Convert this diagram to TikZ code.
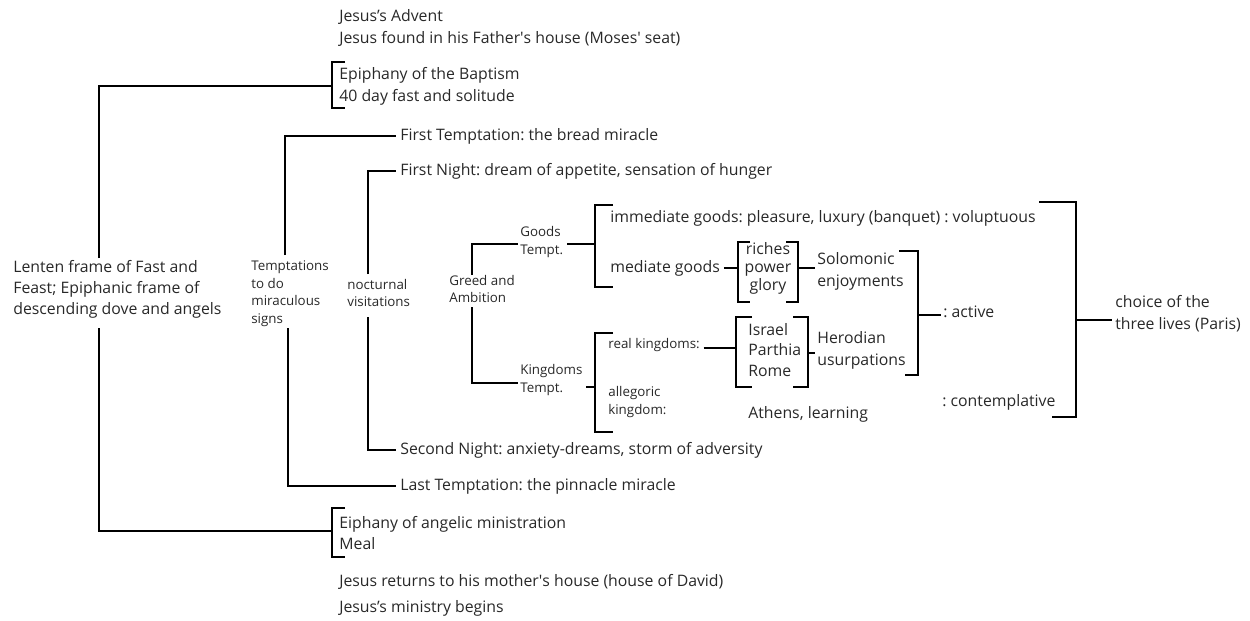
\documentclass[tikz,border=0pt]{standalone}
\usepackage{fontspec}
\setmainfont{Open Sans}
\usepackage{xcolor}
\usepackage{tikz}
\definecolor{inkgray}{RGB}{40, 40, 40}
\frenchspacing

\begin{document}
\begin{tikzpicture}[
  x=0.02cm, y=-0.02cm,
  txt/.style={anchor=west, inner sep=0pt, align=left, text=inkgray, font=\fontsize{9}{12.4}\selectfont},
  sm/.style={txt, font=\fontsize{7.6}{10}\selectfont},
  ln/.style={line width=1.5pt, color=black}
]
\useasboundingbox (0,0) rectangle (1250,620);

% Opening and closing lines of the frame
\node[txt] (advent) at (339,17) {Jesus’s Advent};
\node[txt] (found) at (339,39) {Jesus found in his Father\textquotesingle s house (Moses\textquotesingle\ seat)};
\node[txt] (baptism) at (339,86.5) {Epiphany of the Baptism\\40 day fast and solitude};
\node[txt] (minist) at (339,533) {Eiphany of angelic ministration\\Meal};
\node[txt] (returns) at (339,582) {Jesus returns to his mother\textquotesingle s house (house of David)};
\node[txt] (ministry) at (339,608) {Jesus’s ministry begins};

% Outer frame
\node[txt, font=\fontsize{9}{11.9}\selectfont] (lenten) at (13,289) {Lenten frame of Fast and\\Feast; Epiphanic frame of\\descending dove and angels};
\coordinate (lentUp) at (99,258);
\coordinate (lentDn) at (99,328);
\coordinate (bapMid) at (332,86);
\coordinate (minMid) at (332,531);
\draw[ln] (lentUp) |- (bapMid);
\draw[ln] (lentDn) |- (minMid);
\draw[ln] (345,62) -| (332,108) -- (345,108);
\draw[ln] (345,508) -| (332,557) -- (345,557);

% Miraculous signs
\node[sm] (signs) at (251,293.5) {Temptations\\to do\\miraculous\\signs};
\node[txt] (firstT) at (400,136) {First Temptation: the bread miracle};
\node[txt] (lastT) at (400,486) {Last Temptation: the pinnacle miracle};
\coordinate (signsUp) at (285,255);
\coordinate (signsDn) at (288,328);
\draw[ln] (signsUp) |- ([xshift=-2pt]firstT.west);
\draw[ln] (signsDn) |- ([xshift=-2pt]lastT.west);

% Nocturnal visitations
\node[sm] (noct) at (347,293) {nocturnal\\visitations};
\node[txt] (firstN) at (400,171) {First Night: dream of appetite, sensation of hunger};
\node[txt] (secondN) at (400,450) {Second Night: anxiety-dreams, storm of adversity};
\coordinate (noctUp) at (368,274);
\coordinate (noctDn) at (368,317);
\draw[ln] (noctUp) |- ([xshift=-2pt]firstN.west);
\draw[ln] (noctDn) |- ([xshift=-2pt]secondN.west);

% Greed and Ambition
\node[sm] (greed) at (449,289) {Greed and\\Ambition};
\node[sm] (goods) at (520,242) {Goods\\Tempt.};
\node[sm] (kingdoms) at (520,380) {Kingdoms\\Tempt.};
\coordinate (greedUp) at (472,275);
\coordinate (greedDn) at (472,307);
\draw[ln] (greedUp) |- ([xshift=-1pt]goods.west |- 0,244);
\draw[ln] (greedDn) |- ([xshift=-1pt]kingdoms.west |- 0,383);

% Goods temptation
\coordinate (goodsMid) at (595,244);
\draw[ln] ([xshift=2pt]goods.east |- goodsMid) -- (goodsMid);
\draw[ln] (613,205) -| (595,287) -- (613,287);
\node[txt] (immed) at (610,218) {immediate goods: pleasure, luxury (banquet) : voluptuous};
\node[txt] (mediate) at (610,268) {mediate goods};
\node[txt, anchor=center, align=center, font=\fontsize{9}{10.3}\selectfont] (riches) at (768,268) {riches\\power\\glory};
\coordinate (richL) at (737,268);
\coordinate (richR) at (798,268);
\draw[ln] (750,242) -| (738,302) -- (750,302);
\draw[ln] (786,242) -| (798,302) -- (786,302);
\draw[ln] ([xshift=2pt]mediate.east |- richL) -- (richL);
\node[txt] (solomon) at (817,271.5) {Solomonic\\enjoyments};
\draw[ln] (richR) -- ([xshift=-1pt]solomon.west |- richR);

% Kingdoms temptation
\coordinate (kingMid) at (595,387);
\draw[ln] ([xshift=2pt]kingdoms.east |- kingMid) -- (kingMid);
\draw[ln] (613,333) -| (595,432) -- (613,432);
\node[sm] (real) at (608,345) {real kingdoms:};
\node[sm] (allegoric) at (608,402) {allegoric\\kingdom:};
\node[txt, font=\fontsize{9}{11.6}\selectfont] (israel) at (748,350) {Israel\\Parthia\\Rome};
\coordinate (israelL) at (736,348);
\coordinate (israelR) at (808,353);
\draw[ln] (752,317) -| (736,387) -- (752,387);
\draw[ln] (793,317) -| (808,387) -- (793,387);
\draw[ln] ([xshift=2pt]real.east |- israelL) -- (israelL);
\node[txt] (herod) at (817,350) {Herodian\\usurpations};
\draw[ln] (israelR) -- ([xshift=-1pt]herod.west |- israelR);
\node[txt] (athens) at (748,414) {Athens, learning};

% The three lives
\coordinate (activeMid) at (918,315);
\draw[ln] (899,251) -| (918,375) -- (905,375);
\node[txt] (active) at (943,312) {: active};
\draw[ln] (activeMid) -- ([xshift=-1pt]active.west |- activeMid);
\node[txt] (contemp) at (942,402) {: contemplative};
\coordinate (livesMid) at (1076,320);
\draw[ln] (1039,202) -| (1076,417) -- (1052,417);
\node[txt] (choice) at (1115,314) {choice of the\\three lives (Paris)};
\draw[ln] (livesMid) -- ([xshift=-2pt]choice.west |- livesMid);

\end{tikzpicture}
\end{document}
